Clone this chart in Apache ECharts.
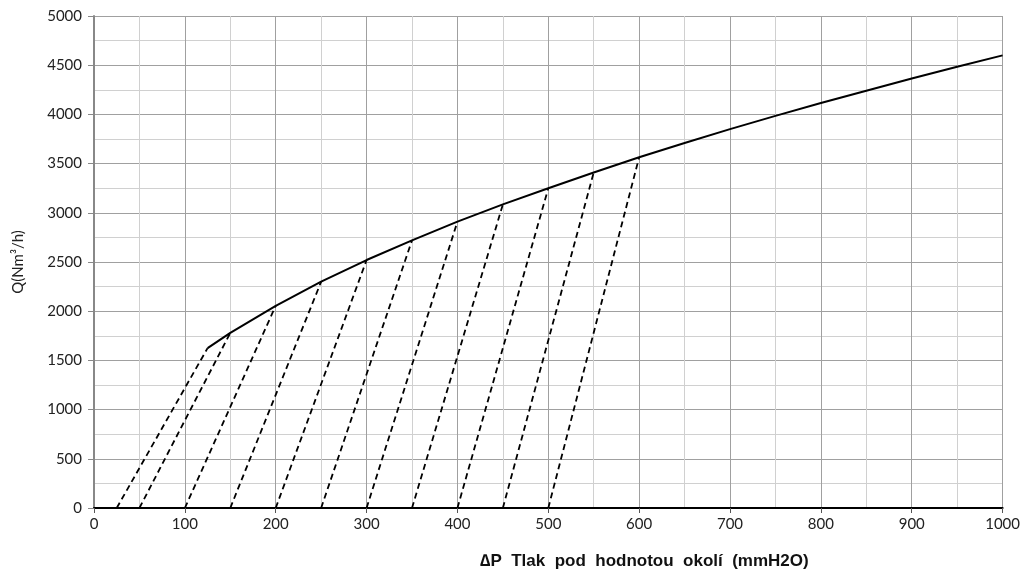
<!DOCTYPE html>
<html>
<head>
<meta charset="utf-8">
<script src="https://cdn.jsdelivr.net/npm/echarts@6/dist/echarts.min.js"></script>
<style>
html, body { margin: 0; padding: 0; background: #fff; }
#main { width: 1023px; height: 572px; }
</style>
</head>
<body>
<div id="main"></div>
<script>
var myChart = echarts.init(document.getElementById('main'));

// krivka Q = f(dP)
var curveP = [125, 150, 200, 250, 300, 350, 400, 450, 500, 550, 600, 650, 700, 750, 800, 850, 900, 950, 1000];
var curveQ = [1625, 1780, 2055, 2300, 2520, 2720, 2910, 3085, 3250, 3410, 3565, 3710, 3850, 3985, 4115, 4240, 4365, 4485, 4600];

// carkovane primky: zacatek na ose x, konec na krivce
var dashStartP = [25, 50, 100, 150, 200, 250, 300, 350, 400, 450, 500];
var dashEndP = [125, 150, 200, 250, 300, 350, 400, 450, 500, 550, 600];

var curveData = curveP.map(function (p, i) {
    return [p, curveQ[i]];
});

var series = [{
    type: 'line',
    data: curveData,
    smooth: false,
    symbol: 'none',
    z: 3,
    lineStyle: { color: '#000', width: 2, join: 'round' }
}];

dashStartP.forEach(function (p0, i) {
    var p1 = dashEndP[i];
    var q1 = curveQ[curveP.indexOf(p1)];
    series.push({
        type: 'line',
        data: [[p0, 0], [p1, q1]],
        symbol: 'none',
        z: 2,
        lineStyle: { color: '#000', width: 1.8, type: [6, 4] }
    });
});

var labelFont = { color: '#222', fontSize: 15, fontFamily: 'Lato, "Open Sans", sans-serif' };
var plain = function (v) { return String(v); };

var option = {
    animation: false,
    grid: { left: 94, right: 20, top: 16, bottom: 64 },
    title: {
        text: '\u2206P  Tlak  pod  hodnotou  okolí  (mmH2O)',
        left: 475,
        top: 548,
        textStyle: { fontSize: 17, fontWeight: 'bold', color: '#111', fontFamily: '"Liberation Sans", Arial, sans-serif' }
    },
    xAxis: {
        type: 'value',
        min: 0,
        max: 1000,
        interval: 100,
        axisLine: { show: true, onZero: false, lineStyle: { color: '#000', width: 2 } },
        axisTick: { show: true, length: 5, lineStyle: { color: '#555' } },
        axisLabel: Object.assign({ margin: 9, formatter: plain }, labelFont),
        splitLine: { show: true, lineStyle: { color: '#a0a0a0', width: 1 } },
        minorTick: { show: false, splitNumber: 2 },
        minorSplitLine: { show: true, lineStyle: { color: '#d0d0d0', width: 1 } }
    },
    yAxis: {
        type: 'value',
        min: 0,
        max: 5000,
        interval: 500,
        name: 'Q(Nm³/h)',
        nameLocation: 'middle',
        nameGap: 68,
        nameTextStyle: labelFont,
        axisLine: { show: true, lineStyle: { color: '#888', width: 2 } },
        axisTick: { show: true, length: 6, lineStyle: { color: '#888' } },
        axisLabel: Object.assign({ margin: 12, formatter: plain }, labelFont),
        splitLine: { show: true, lineStyle: { color: '#a0a0a0', width: 1 } },
        minorTick: { show: false, splitNumber: 2 },
        minorSplitLine: { show: true, lineStyle: { color: '#d0d0d0', width: 1 } }
    },
    series: series
};

myChart.setOption(option);
window.onresize = myChart.resize;
</script>
</body>
</html>
